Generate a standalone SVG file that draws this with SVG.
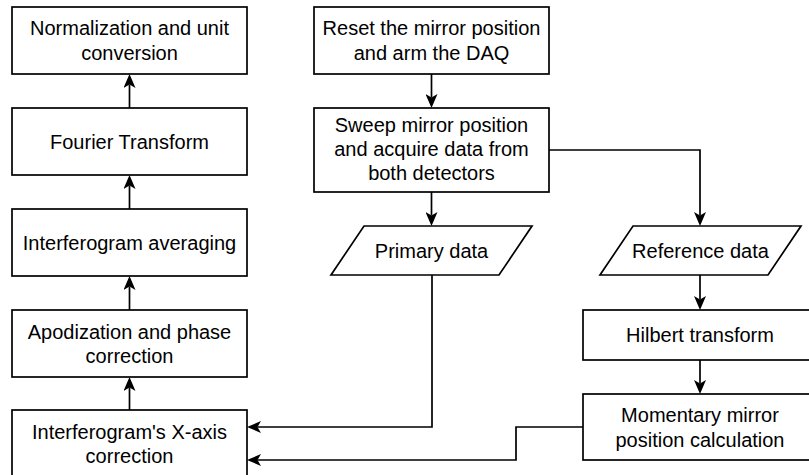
<svg xmlns="http://www.w3.org/2000/svg" width="809" height="475" viewBox="0 0 809 475">
  <style>
    .box { fill: #ffffff; stroke: #000000; stroke-width: 1.7; }
    .lbl { font-family: "Liberation Sans", Arial, Helvetica, sans-serif; font-size: 20px; fill: #000000; text-anchor: middle; }
    .edge { fill: none; stroke: #000000; stroke-width: 1.7; marker-end: url(#arrow); }
  </style>
  <defs>
    <!-- classic notched arrowhead; refX at the notch so the line meets it -->
    <marker id="arrow" viewBox="0 0 14 12" refX="3.5" refY="6" markerWidth="14" markerHeight="12" markerUnits="userSpaceOnUse" orient="auto">
      <path d="M0,0 L14,6 L0,12 L3.5,6 Z" fill="#000000"/>
    </marker>
  </defs>

  <rect width="809" height="475" fill="#ffffff"/>

  <!-- left column: post-processing chain -->
  <g id="normalization">
    <rect class="box" x="12" y="7" width="235" height="67"/>
    <text class="lbl" x="129.5" y="35">Normalization and unit</text>
    <text class="lbl" x="129.5" y="60">conversion</text>
  </g>
  <g id="fourier">
    <rect class="box" x="12" y="108" width="235" height="67"/>
    <text class="lbl" x="129.5" y="148.5">Fourier Transform</text>
  </g>
  <g id="averaging">
    <rect class="box" x="12" y="209" width="235" height="67"/>
    <text class="lbl" x="129.5" y="249.5">Interferogram averaging</text>
  </g>
  <g id="apodization">
    <rect class="box" x="12" y="310" width="235" height="67"/>
    <text class="lbl" x="129.5" y="338.5">Apodization and phase</text>
    <text class="lbl" x="129.5" y="363">correction</text>
  </g>
  <g id="xaxis">
    <rect class="box" x="12" y="410" width="235" height="67"/>
    <text class="lbl" x="129.5" y="438.5">Interferogram's X-axis</text>
    <text class="lbl" x="129.5" y="463">correction</text>
  </g>

  <!-- middle column: acquisition -->
  <g id="reset">
    <rect class="box" x="314" y="7" width="235" height="67"/>
    <text class="lbl" x="431.5" y="35">Reset the mirror position</text>
    <text class="lbl" x="431.5" y="60">and arm the DAQ</text>
  </g>
  <g id="sweep">
    <rect class="box" x="314" y="108" width="235" height="84"/>
    <text class="lbl" x="431.5" y="132">Sweep mirror position</text>
    <text class="lbl" x="431.5" y="156">and acquire data from</text>
    <text class="lbl" x="431.5" y="180">both detectors</text>
  </g>
  <g id="primary">
    <polygon class="box" points="364,226 532,226 499,275 331,275"/>
    <text class="lbl" x="431.5" y="257.5">Primary data</text>
  </g>

  <!-- right column: reference channel -->
  <g id="reference">
    <polygon class="box" points="633,226 801,226 768,275 600,275"/>
    <text class="lbl" x="700.5" y="257.5">Reference data</text>
  </g>
  <g id="hilbert">
    <rect class="box" x="583" y="310" width="234" height="50"/>
    <text class="lbl" x="700" y="342">Hilbert transform</text>
  </g>
  <g id="momentary">
    <rect class="box" x="583" y="394" width="234" height="66"/>
    <text class="lbl" x="700" y="422">Momentary mirror</text>
    <text class="lbl" x="700" y="446.5">position calculation</text>
  </g>

  <!-- connectors -->
  <g id="connectors">
    <path class="edge" d="M129.5,410 L129.5,387.5"/>
    <path class="edge" d="M129.5,310 L129.5,286.5"/>
    <path class="edge" d="M129.5,209 L129.5,185.5"/>
    <path class="edge" d="M129.5,108 L129.5,84.5"/>
    <path class="edge" d="M431.5,74 L431.5,97.5"/>
    <path class="edge" d="M431.5,192 L431.5,215.5"/>
    <path class="edge" d="M549,150 L700,150 L700,215.5"/>
    <path class="edge" d="M700,275 L700,299.5"/>
    <path class="edge" d="M700,360 L700,383.5"/>
    <path class="edge" d="M432,275 L432,427 L257.5,427"/>
    <path class="edge" d="M583,427 L516,427 L516,460 L257.5,460"/>
  </g>
</svg>
